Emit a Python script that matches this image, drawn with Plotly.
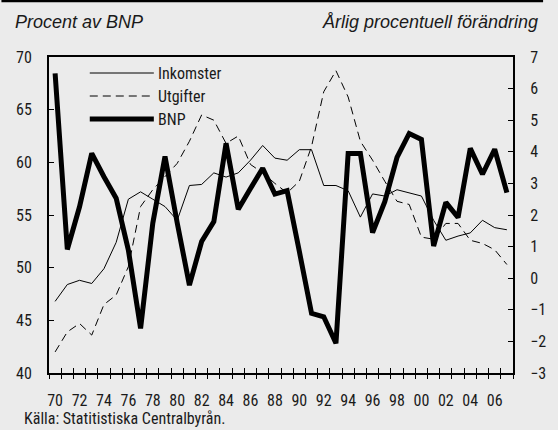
import plotly.graph_objects as go

years = list(range(1970, 2008))
inkomster = [46.8, 48.4, 48.8, 48.5, 49.9, 52.4, 56.5, 57.2, 56.5, 55.8,
             54.5, 57.8, 57.9, 59.0, 58.6, 59.0, 60.2, 61.6, 60.4, 60.2,
             61.2, 61.2, 57.8, 57.8, 57.3, 54.8, 57.0, 56.8, 57.4, 57.1,
             56.8, 54.5, 52.6, 53.0, 53.3, 54.5, 53.8, 53.6]
utgifter = [42.0, 43.9, 44.7, 43.6, 46.5, 47.4, 50.1, 55.8, 57.4, 58.6,
            59.9, 62.0, 64.5, 64.0, 61.8, 62.5, 59.8, 59.0, 58.0, 57.1,
            58.2, 61.5, 66.7, 68.7, 66.2, 62.0, 60.2, 58.2, 56.3, 56.0,
            52.9, 52.7, 54.2, 54.2, 52.6, 52.3, 51.7, 50.3]
bnp = [6.48, 0.91, 2.26, 3.95, 3.21, 2.53, 0.89, -1.59, 1.74, 3.85,
       1.75, -0.22, 1.16, 1.79, 4.27, 2.18, 2.84, 3.48, 2.66, 2.77,
       0.85, -1.11, -1.22, -2.06, 3.95, 3.95, 1.44, 2.42, 3.82, 4.58,
       4.39, 1.02, 2.40, 1.92, 4.11, 3.29, 4.08, 2.71]
xlabel_years = list(range(1970, 2007, 2))
xlabels = [f"{y % 100:02d}" for y in xlabel_years]
left_ticks = [40, 45, 50, 55, 60, 65, 70]
right_ticks = list(range(-3, 8))

W, H = 558, 430
L, R, T, B = 49, 527, 57, 373
BG = "#ebebeb"
FONT = "Roboto Condensed, DejaVu Sans Condensed, Liberation Sans Narrow, Roboto, sans-serif"
FS = 16
TXT = "#1a1a1a"


def px2x(px):
    return (px - L) / (R - L)


def px2y(py):
    return (B - py) / (B - T)


fig = go.Figure()
fig.add_trace(go.Scatter(x=years, y=inkomster, mode="lines", name="Inkomster",
                         line=dict(color="black", width=1), yaxis="y", xaxis="x"))
fig.add_trace(go.Scatter(x=years, y=utgifter, mode="lines", name="Utgifter",
                         line=dict(color="black", width=1, dash="8px,5px"),
                         yaxis="y", xaxis="x"))
fig.add_trace(go.Scatter(x=years, y=bnp, mode="lines", name="BNP",
                         line=dict(color="black", width=5), yaxis="y2", xaxis="x"))
# invisible trace to anchor the tick-overlay axis
fig.add_trace(go.Scatter(x=[1970], y=[50], mode="markers", marker=dict(opacity=0),
                         xaxis="x2", yaxis="y", hoverinfo="skip", showlegend=False))

half_years = [1969.5 + i for i in range(39)]

fig.update_layout(
    width=W, height=H,
    margin=dict(l=L, r=W - R, t=T, b=H - B, pad=0),
    paper_bgcolor=BG, plot_bgcolor=BG,
    showlegend=False,
    font=dict(family=FONT, size=FS, color=TXT),
    xaxis=dict(range=[1969.5, 2007.5], tickmode="array", tickvals=xlabel_years,
               ticktext=xlabels, ticks="", showgrid=False, zeroline=False,
               showline=True, linecolor="black", linewidth=2, mirror=True,
               ticklabelstandoff=12,
               tickfont=dict(family=FONT, size=FS, color=TXT),
               minor=dict(tickvals=half_years, ticks="outside", ticklen=4,
                          tickwidth=1, tickcolor="black", showgrid=False)),
    xaxis2=dict(range=[1969.5, 2007.5], overlaying="x", anchor="y", side="bottom",
                tickmode="array", tickvals=half_years, ticks="inside", ticklen=5,
                tickwidth=1, tickcolor="black", showticklabels=False,
                showgrid=False, zeroline=False, showline=False),
    yaxis=dict(range=[40, 70], tickmode="array", tickvals=left_ticks,
               ticks="inside", ticklen=5, tickwidth=1, tickcolor="black",
               showgrid=False, zeroline=False, showline=True, linecolor="black",
               linewidth=2, ticklabelstandoff=12,
               tickfont=dict(family=FONT, size=FS, color=TXT)),
    yaxis2=dict(range=[-3, 7], tickmode="array", tickvals=right_ticks,
                overlaying="y", side="right", anchor="x",
                ticks="inside", ticklen=5, tickwidth=1, tickcolor="black",
                showgrid=False, zeroline=False, showline=True, linecolor="black",
                linewidth=2, ticklabelstandoff=12,
                tickfont=dict(family=FONT, size=FS, color=TXT)),
)

# top black rule
fig.add_shape(type="line", xref="paper", yref="paper",
              x0=px2x(0), x1=px2x(W), y0=px2y(1), y1=px2y(1),
              line=dict(color="black", width=2.5))

# header texts
fig.add_annotation(text="<i>Procent av BNP</i>", xref="paper", yref="paper",
                   x=px2x(12), y=px2y(22), xanchor="left", yanchor="middle",
                   showarrow=False, font=dict(family="Liberation Sans", size=18, color=TXT))
fig.add_annotation(text="<i>Årlig procentuell förändring</i>", xref="paper", yref="paper",
                   x=px2x(555), y=px2y(22), xanchor="right", yanchor="middle",
                   showarrow=False, font=dict(family="Liberation Sans", size=18, color=TXT))
# source
fig.add_annotation(text="Källa: Statitistiska Centralbyrån.", xref="paper", yref="paper",
                   x=px2x(22), y=px2y(419), xanchor="left", yanchor="middle",
                   showarrow=False, borderpad=0,
                   font=dict(family=FONT, size=16, color=TXT))

# custom legend
legend_items = [("Inkomster", 73, dict(color="black", width=1)),
                ("Utgifter", 96, dict(color="black", width=1, dash="8px,5px")),
                ("BNP", 119, dict(color="black", width=5))]
for name, ypx, ln in legend_items:
    fig.add_shape(type="line", xref="paper", yref="paper",
                  x0=px2x(91), x1=px2x(157), y0=px2y(ypx), y1=px2y(ypx), line=ln)
    fig.add_annotation(text=name, xref="paper", yref="paper",
                       x=px2x(159), y=px2y(ypx), xanchor="left", yanchor="middle",
                       showarrow=False, font=dict(family=FONT, size=FS, color=TXT))

fig.write_html("out.html",
               config={"displayModeBar": False, "staticPlot": True},
               post_script="document.body.style.margin='0';document.body.style.overflow='hidden';")
